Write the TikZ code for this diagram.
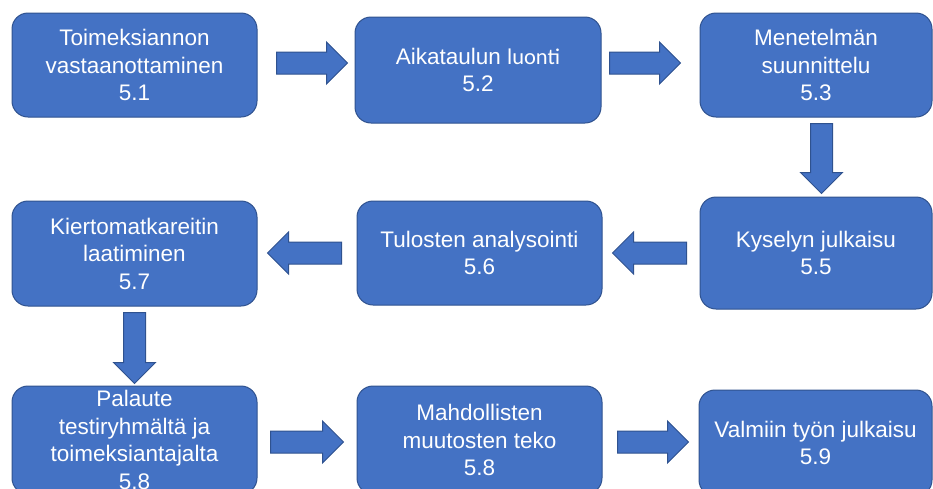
\documentclass[tikz,border=0pt]{standalone}
\usepackage{fontspec}
\setmainfont{Liberation Sans}
\newfontfamily\luontifont{Carlito}
\usetikzlibrary{shapes.arrows}
\definecolor{boxblue}{HTML}{4472C4}
\definecolor{edgeblue}{HTML}{2F528F}
\begin{document}
\begin{tikzpicture}[x=1pt,y=-1pt,
  box/.style={draw=edgeblue,fill=boxblue,line width=1pt,rounded corners=16pt,
    text=white,align=center,inner sep=0pt,
    font=\fontsize{22.5}{27.5}\selectfont},
  blockarrow/.style={single arrow,draw=edgeblue,fill=boxblue,line width=1pt,
    inner sep=10.5pt,single arrow head extend=10pt,anchor=tail}]
\useasboundingbox (0,0) rectangle (933,488);
\clip (0,0) rectangle (933,488);
% first row
\node [box,minimum width=245pt,minimum height=104pt] (t1) at (134.5,65) {Toimeksiannon\\vastaanottaminen\\5.1};
\node [box,minimum width=246pt,minimum height=106pt] (t2) at (478,70) {Aikataulun {\luontifont luonti}\\5.2};
\node [box,minimum width=232pt,minimum height=104pt] (t3) at (816,65) {Menetelmän\\suunnittelu\\5.3};
% second row
\node [box,minimum width=232pt,minimum height=112pt] (t5) at (816,253) {Kyselyn julkaisu\\5.5};
\node [box,minimum width=245pt,minimum height=104pt] (t6) at (479.5,253) {Tulosten analysointi\\5.6};
\node [box,minimum width=245pt,minimum height=105pt] (t7) at (134.5,253.5) {Kiertomatkareitin\\laatiminen\\5.7};
% third row
\node [box,minimum width=245pt,minimum height=108pt] (t8) at (134.5,440) {Palaute\\testiryhmältä ja\\toimeksiantajalta\\5.8};
\node [box,minimum width=245pt,minimum height=108pt] (t8b) at (479.5,440) {Mahdollisten\\muutosten teko\\5.8};
\node [box,minimum width=233pt,minimum height=106pt] (t9) at (815.5,443) {Valmiin työn julkaisu\\5.9};
% arrows, placed by their tails
\node [blockarrow,minimum height=71pt] (a12) at (276,63) {};
\node [blockarrow,minimum height=71pt] (a23) at (609,63) {};
\node [blockarrow,minimum height=70pt,shape border rotate=270] (a35) at (821.5,123) {};
\node [blockarrow,minimum height=74pt,shape border rotate=180] (a56) at (687,253) {};
\node [blockarrow,minimum height=74pt,shape border rotate=180] (a67) at (342,253) {};
\node [blockarrow,minimum height=71pt,shape border rotate=270] (a78) at (134.5,312) {};
\node [blockarrow,minimum height=73pt] (a88) at (270,442) {};
\node [blockarrow,minimum height=71pt] (a89) at (617,442) {};
\end{tikzpicture}
\end{document}
